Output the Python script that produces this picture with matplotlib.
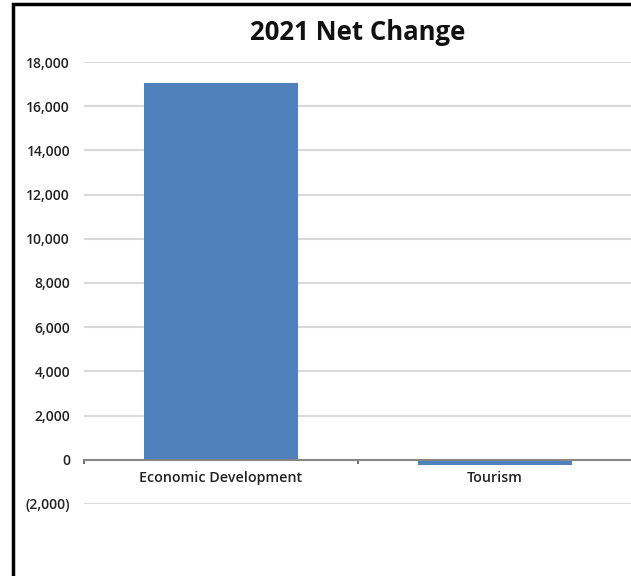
import matplotlib.pyplot as plt
from matplotlib.patches import Rectangle
from matplotlib.ticker import FuncFormatter

categories = ['Economic Development', 'Tourism']
net_change = [17050, -250]
y_ticks = [-2000, 0, 2000, 4000, 6000, 8000, 10000, 12000, 14000, 16000, 18000]

plt.rcParams['font.family'] = ['Open Sans', 'DejaVu Sans']

fig = plt.figure(figsize=(6.31, 5.76), dpi=100)
ax = fig.add_axes([84 / 631, 72 / 576, 548 / 631, 442 / 576])

x = list(range(len(categories)))
ax.bar(x, net_change, width=0.56, color='#4F81BD', zorder=3)

ax.set_xlim(-0.5, 1.5)
ax.set_ylim(-2000, 18000)

# gridlines
ax.set_yticks(y_ticks)
ax.yaxis.set_major_formatter(FuncFormatter(
    lambda v, p: f'({abs(v):,.0f})' if v < 0 else f'{v:,.0f}'))
ax.grid(axis='y', color='#d9d9d9', linewidth=1.5, zorder=0)
ax.tick_params(axis='y', length=0, pad=10, labelsize=10, colors='#222222')
for lbl in ax.get_yticklabels():
    lbl.set_fontweight('semibold')

# category axis at zero
for s in ['left', 'right', 'top']:
    ax.spines[s].set_visible(False)
ax.spines['bottom'].set_position(('data', 0))
ax.spines['bottom'].set_color('#868686')
ax.spines['bottom'].set_linewidth(1.5)
ax.spines['bottom'].set_zorder(4)
ax.set_xticks(x)
ax.set_xticklabels(categories, fontsize=10.3, fontweight='semibold', color='#222222')
ax.set_xticks([-0.5, 0.5, 1.5], minor=True)
ax.tick_params(axis='x', which='major', length=0, pad=8)
ax.tick_params(axis='x', which='minor', length=3, width=1.2, color='#555555')

fig.text(358 / 631, 1 - 32 / 576, '2021 Net Change', ha='center', va='center',
         fontsize=18.5, fontweight='bold', color='#111111')

# chart border (cropped on right and bottom)
fig.patches.append(Rectangle((13 / 631, -0.5), 3, 1.5 - 4 / 576,
                             transform=fig.transFigure, fill=False,
                             edgecolor='black', linewidth=2.5))

plt.savefig('out.png', dpi=100)
